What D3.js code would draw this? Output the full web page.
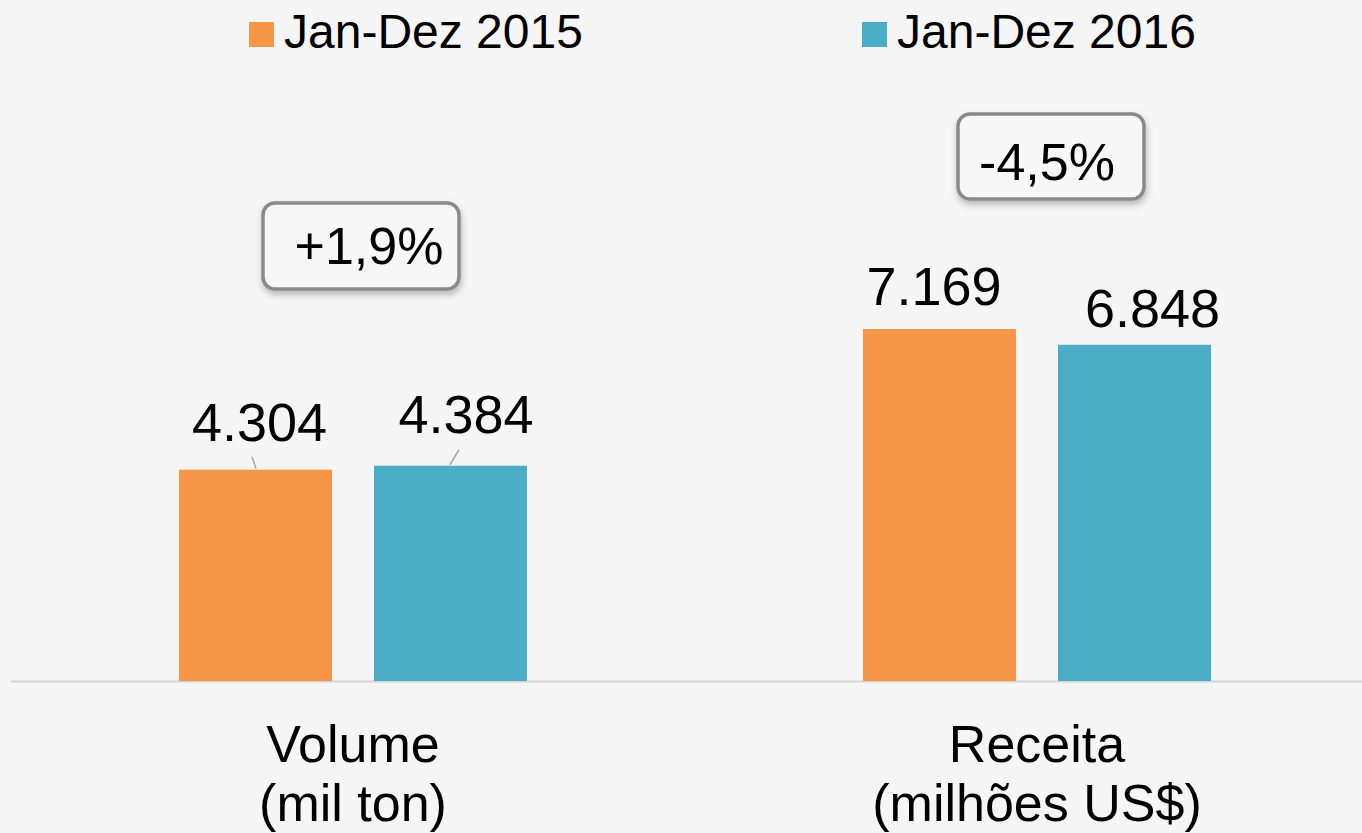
<!DOCTYPE html>
<html><head><meta charset="utf-8">
<script src="https://cdn.jsdelivr.net/npm/d3@7"></script>
<style>html,body{margin:0;padding:0;background:#f5f5f5;}svg{display:block;font-family:"Liberation Sans",Arial,sans-serif;}</style>
</head><body><svg id="c" width="1362" height="833"></svg>
<script>
const categories = [["Volume","(mil ton)"],["Receita","(milhões US$)"]];
const seriesNames = ["Jan-Dez 2015","Jan-Dez 2016"];
const values2015 = [4304, 7169];
const values2016 = [4384, 6848];
const valueLabels2015 = ["4.304","7.169"];
const valueLabels2016 = ["4.384","6.848"];
const changeLabels = ["+1,9%","-4,5%"];
const colors = ["#F79646","#4BACC6"];

// layout nudges (label offsets relative to bar top-center)
const labelNudge = [[[4,-29],[15.5,-33]],[[-5.5,-24],[18,-18]]];
// leader lines: [top dx, top dy, bottom dx, bottom dy] relative to bar top-center, or null
const leaderLines = [[[-3.5,-13,0.5,-1],[8.5,-16,-0.5,-1]],[null,null]];
const boxLayout = [{x:263,y:203,w:196,h:86,tx:369,ty:264},{x:958,y:114,w:186,h:85,tx:1047,ty:180}];

const svg = d3.select("#c");
const W=1362,H=833, base=681;
const defs = svg.append("defs");
const f = defs.append("filter").attr("id","sh").attr("x","-20%").attr("y","-20%").attr("width","140%").attr("height","150%");
f.append("feDropShadow").attr("dx",1).attr("dy",4).attr("stdDeviation",3).attr("flood-color","#000").attr("flood-opacity",0.25);

const x0 = d3.scaleBand().domain(d3.range(categories.length)).range([11,1379]).padding(0);
const groupW = 348;
const x1 = d3.scaleBand().domain([0,1]).range([0,groupW]).paddingInner(0.2154).paddingOuter(0);
const y = d3.scaleLinear().domain([0,13870]).range([base,0]);

const data = categories.map((c,i)=>({c,i,vals:[values2015[i],values2016[i]],labs:[valueLabels2015[i],valueLabels2016[i]]}));

// axis line
svg.append("line").attr("x1",11).attr("x2",W).attr("y1",base+0.5).attr("y2",base+0.5).attr("stroke","#d4d4d4").attr("stroke-width",2);

const g = svg.selectAll("g.grp").data(data).join("g").attr("class","grp")
  .attr("transform",d=>`translate(${x0(d.i)+(x0.bandwidth()-groupW)/2},0)`);

g.each(function(d){
  const gg=d3.select(this);
  d.vals.forEach((v,s)=>{
    const bx=x1(s), bw=x1.bandwidth();
    gg.append("rect").attr("x",bx).attr("width",bw).attr("y",y(v)).attr("height",base-y(v)).attr("fill",colors[s]);
    const [dx,dy]=labelNudge[d.i][s];
    const cx=bx+bw/2;
    gg.append("text").attr("x",cx+dx).attr("y",y(v)+dy).attr("text-anchor","middle")
      .attr("font-size",54).attr("fill","#000").text(d.labs[s]);
    const L=leaderLines[d.i][s];
    if(L){
      gg.append("line").attr("x1",cx+L[0]).attr("y1",y(v)+L[1]).attr("x2",cx+L[2]).attr("y2",y(v)+L[3])
        .attr("stroke","#a6a6a6").attr("stroke-width",1.5);
    }
  });
  const t=gg.append("text").attr("text-anchor","middle").attr("font-size",52).attr("fill","#000");
  t.append("tspan").attr("x",groupW/2).attr("y",762).text(d.c[0]);
  t.append("tspan").attr("x",groupW/2).attr("y",821).text(d.c[1]);
});

// change boxes
boxLayout.forEach((b,i)=>{
  svg.append("rect").attr("x",b.x).attr("y",b.y).attr("width",b.w).attr("height",b.h).attr("rx",12)
    .attr("fill","#f7f7f7").attr("stroke","#8a8a8a").attr("stroke-width",3.5).attr("filter","url(#sh)");
  svg.append("text").attr("x",b.tx).attr("y",b.ty).attr("text-anchor","middle").attr("font-size",52).attr("fill","#000").text(changeLabels[i]);
});

// legend
const legX=[249,862];
seriesNames.forEach((n,i)=>{
  svg.append("rect").attr("x",legX[i]).attr("y",22).attr("width",25).attr("height",25).attr("fill",colors[i]);
  svg.append("text").attr("x",legX[i]+35).attr("y",48).attr("font-size",48).attr("fill","#000").text(n);
});
</script></body></html>
